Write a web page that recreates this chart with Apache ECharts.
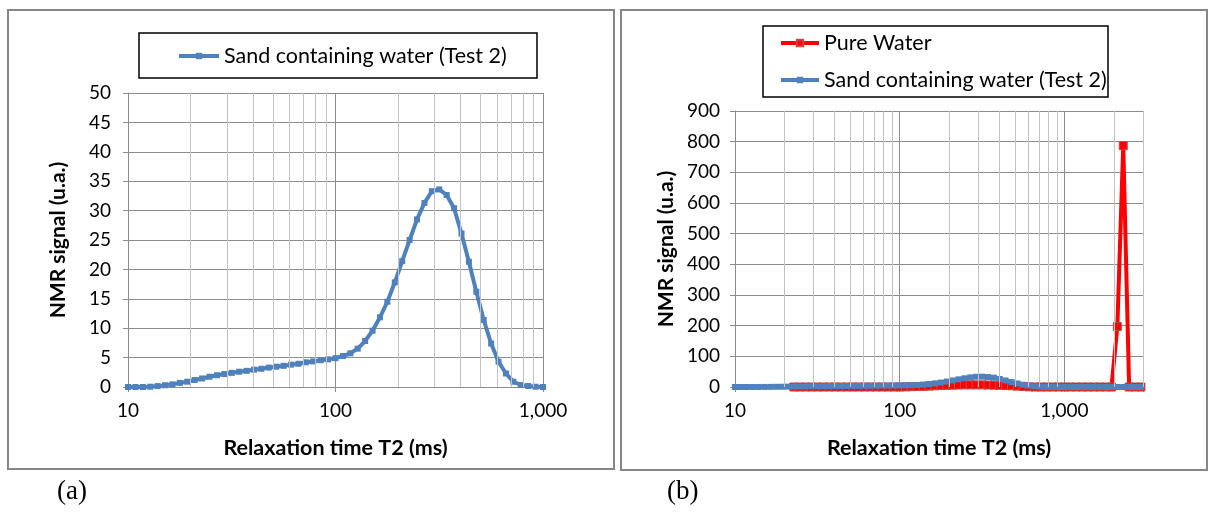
<!DOCTYPE html>
<html>
<head>
<meta charset="utf-8">
<script src="https://cdn.jsdelivr.net/npm/echarts@6/dist/echarts.min.js"></script>
<style>html,body{margin:0;padding:0;background:#fff}#c{width:1209px;height:512px}</style>
</head>
<body>
<div id="c"></div>
<script>
// T2 relaxation times (ms), log-spaced sampling
const t2 = [10,10.86,11.79,12.80,13.89,15.09,16.38,17.78,19.31,20.96,22.76,24.71,26.83,29.13,31.62,34.33,37.28,40.47,43.94,47.71,51.79,56.23,61.05,66.29,71.97,78.14,84.83,92.11,100,108.6,117.9,128.0,138.9,150.9,163.8,177.8,193.1,209.6,227.6,247.1,268.3,291.3,316.2,343.3,372.8,404.7,439.4,477.1,517.9,562.3,610.5,662.9,719.7,781.4,848.3,921.1,1000,1086,1179,1280,1389,1509,1638,1778,1931,2096,2276,2471,2683,2913];
// Sand containing water (Test 2)
const sandValues = [0,0,0,0.05,0.15,0.3,0.45,0.7,0.9,1.2,1.45,1.75,2.0,2.2,2.4,2.6,2.75,2.95,3.1,3.3,3.45,3.6,3.8,3.95,4.2,4.35,4.55,4.7,4.9,5.27,5.73,6.52,7.82,9.58,11.85,14.5,17.8,21.4,25.0,28.5,31.3,33.3,33.6,32.65,30.4,26.1,21.3,16.2,11.4,7.4,4.3,2.3,0.9,0.34,0.17,0.05,0,0,0,0,0,0,0,0,0,0,0,0,0,0];
// Pure water (starts at index 10 of t2, i.e. ~23 ms)
const pureStart = 10;
const pureValues = [0,0,0,0,0,0,0,0,0,0,0,0,0,0,0,0,0,0,0,0.5,1,1.5,2,3,4,5,5.5,6,6.5,7,7,7,7,6.5,6,5.5,5,4,3,1.5,0.5,0,0,0,0,0,0,0,0,0,0,0,0,0,0,197,787,0,0,0];
const xTickValues = [10,100,1000];
const xTickLabels = ['10','100','1,000'];
const minorLinesA = [20,30,40,50,60,70,80,90,200,300,400,500,600,700,800,900];
const minorLinesB = [20,30,40,50,60,70,80,90,200,300,400,500,600,700,800,900,2000,3000];
const sandName = 'Sand containing water (Test 2)';
const pureName = 'Pure Water';

const sandA = t2.slice(0,57).map((x,i)=>[x,sandValues[i]]);
const sandB = t2.map((x,i)=>[x,sandValues[i]]);
const pure = pureValues.map((v,i)=>[t2[pureStart+i],v]);

const FONT = 'Lato, "Open Sans", sans-serif';
const BLUE = '#4f81bd', RED = '#ff0000';
const MAJ = '#8c8c8c', MIN = '#c3c3c3';

function xAxis(gi, max){
  return {type:'log', logBase:10, gridIndex:gi, min:10, max:max,
    axisLine:{show:true, lineStyle:{color:MAJ,width:1}},
    axisTick:{show:true, length:5, lineStyle:{color:MAJ}},
    axisLabel:{fontFamily:FONT, fontSize:19, color:'#000', margin:14,
      formatter:v=>{const k=xTickValues.findIndex(t=>Math.abs(t-v)<1e-6*t);return k>=0?xTickLabels[k]:'';}},
    splitLine:{show:true, lineStyle:{color:MAJ,width:1}},
    minorTick:{show:false}, minorSplitLine:{show:false},
    name:'Relaxation time T2 (ms)', nameLocation:'middle', nameGap:50,
    nameTextStyle:{fontFamily:FONT, fontSize:21.5, fontWeight:'bold', color:'#000'}};
}
function yAxis(gi, max, interval){
  return {type:'value', gridIndex:gi, min:0, max:max, interval:interval,
    axisLine:{show:true, lineStyle:{color:MAJ,width:1}},
    axisTick:{show:true, length:5, inside:false, lineStyle:{color:MAJ}},
    axisLabel:{fontFamily:FONT, fontSize:19, color:'#000', margin: gi===0?17:15},
    splitLine:{show:true, lineStyle:{color:MAJ,width:1}},
    name:'NMR signal (u.a.)', nameLocation:'middle', nameGap: gi===0?59:58,
    nameTextStyle:{fontFamily:FONT, fontSize:21, fontWeight:'bold', color:'#000'}};
}
function helper(gi, lines){
  return {type:'line', name:'_grid'+gi, xAxisIndex:gi, yAxisIndex:gi, data:[], z:1, silent:true,
    markLine:{silent:true, symbol:['none','none'], label:{show:false}, animation:false,
      lineStyle:{color:MIN, width:1, type:'solid'}, emphasis:{disabled:true},
      data: lines.map(v=>({xAxis:v}))}};
}
const legendLine = {width:4};

const chart = echarts.init(document.getElementById('c'), null, {renderer:'canvas'});
chart.setOption({
  animation:false,
  backgroundColor:'#fff',
  graphic:[
    {type:'rect', shape:{x:8,y:10,width:606,height:459}, style:{fill:'none', stroke:'#878787', lineWidth:2}, z:-10},
    {type:'rect', shape:{x:621,y:10,width:586,height:460}, style:{fill:'none', stroke:'#878787', lineWidth:2}, z:-10},
    {type:'rect', shape:{x:139,y:33,width:398,height:45}, style:{fill:'#fff', stroke:'#000', lineWidth:1.5}, z:-5},
    {type:'rect', shape:{x:763,y:26,width:345,height:71}, style:{fill:'#fff', stroke:'#000', lineWidth:1.5}, z:-5},
    {type:'text', x:57, y:478, style:{text:'(a)', font:'27px "Liberation Serif", serif', fill:'#000'}},
    {type:'text', x:667, y:478, style:{text:'(b)', font:'27px "Liberation Serif", serif', fill:'#000'}}
  ],
  legend:[
    {data:[sandName], left:177, top:45, padding:0, itemWidth:40, itemHeight:8, lineStyle:legendLine,
      textStyle:{fontFamily:FONT, fontSize:21.5, color:'#000'}},
    {data:[pureName, sandName], orient:'vertical', left:779, top:32, padding:0, itemWidth:38, itemHeight:8, itemGap:15,
      lineStyle:legendLine, textStyle:{fontFamily:FONT, fontSize:21.5, color:'#000'}}
  ],
  grid:[
    {left:128, right:666, top:93, bottom:125, outerBoundsMode:'none', containLabel:false},
    {left:735, right:66, top:111, bottom:125, outerBoundsMode:'none', containLabel:false}
  ],
  xAxis:[xAxis(0,1000), xAxis(1,3000)],
  yAxis:[yAxis(0,50,5), yAxis(1,900,100)],
  series:[
    helper(0, minorLinesA),
    helper(1, minorLinesB),
    {type:'line', name:sandName, xAxisIndex:0, yAxisIndex:0, data:sandA, z:3,
      symbol:'rect', symbolSize:6, showAllSymbol:true,
      lineStyle:{color:BLUE, width:4}, itemStyle:{color:BLUE}},
    {type:'line', name:pureName, xAxisIndex:1, yAxisIndex:1, data:pure, z:3,
      symbol:'rect', symbolSize:8, showAllSymbol:true,
      lineStyle:{color:RED, width:4}, itemStyle:{color:RED, borderColor:'#be4b48', borderWidth:1}},
    {type:'line', name:sandName, xAxisIndex:1, yAxisIndex:1, data:sandB, z:4,
      symbol:'rect', symbolSize:6, showAllSymbol:true,
      lineStyle:{color:BLUE, width:4}, itemStyle:{color:BLUE}}
  ]
});
</script>
</body>
</html>
